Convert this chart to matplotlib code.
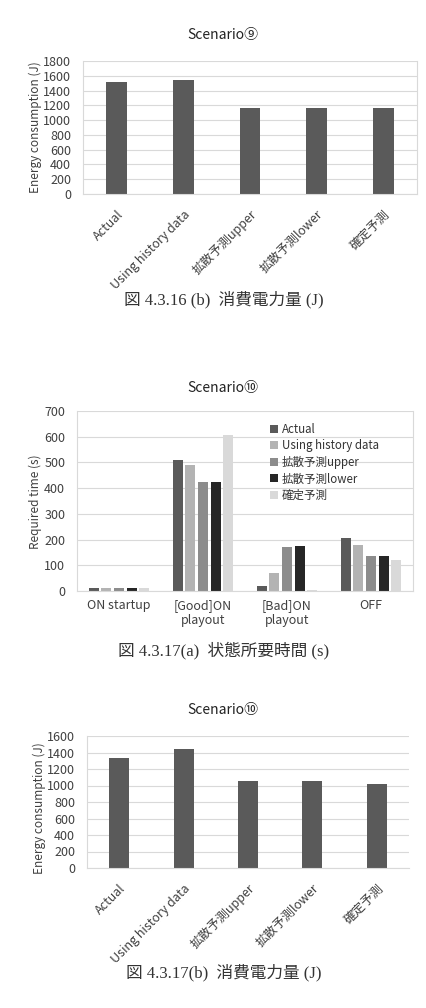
import matplotlib
matplotlib.use("Agg")
import matplotlib.pyplot as plt
import numpy as np

plt.rcParams['font.family'] = ['Noto Sans CJK JP', 'DejaVu Sans']

# data
methods = ['Actual', 'Using history data', '拡散予測upper', '拡散予測lower', '確定予測']
energy9 = [1515, 1545, 1163, 1163, 1170]
energy10 = [1330, 1448, 1056, 1056, 1020]

states = ['ON startup', '[Good]ON\nplayout', '[Bad]ON\nplayout', 'OFF']
t_actual = [10, 510, 20, 205]
t_history = [10, 490, 70, 177]
t_upper = [10, 425, 170, 138]
t_lower = [10, 425, 175, 138]
t_fixed = [13, 607, 4, 122]

W, H = 427, 1008
fig = plt.figure(figsize=(W / 100, H / 100), dpi=100)
fig.patch.set_facecolor('white')

grid_c = '#d9d9d9'
txt_c = '#404040'
cap_font = ['Liberation Serif', 'Noto Sans CJK JP']


def box(l, r, t, b):
    return [l / W, (H - b) / H, (r - l) / W, (b - t) / H]


def style(ax):
    ax.spines['top'].set_visible(False)
    for s in ['left', 'right', 'bottom']:
        ax.spines[s].set_color(grid_c)
        ax.spines[s].set_linewidth(0.8)
    ax.yaxis.grid(True, color=grid_c, linewidth=0.8)
    ax.set_axisbelow(True)
    ax.tick_params(axis='both', length=0, colors=txt_c, labelsize=9)
    ax.tick_params(axis='y', pad=8.5)


def ftext(x, y, s, **kw):
    fig.text(x / W, 1 - y / H, s, ha='center', va='center', **kw)


# ---- Scenario 9 energy ----
ax1 = fig.add_axes(box(83, 417, 61, 194))
x = np.arange(len(methods))
ax1.bar(x, energy9, width=0.31, color='#5a5a5a')
ax1.set_xlim(-0.5, 4.5)
ax1.set_ylim(0, 1800)
ax1.set_yticks(range(0, 1801, 200))
ax1.set_xticks(x)
ax1.set_xticklabels(methods, rotation=45, ha='right', rotation_mode='anchor', fontsize=8.5)
style(ax1)
ax1.tick_params(axis='x', pad=10)
ftext(223, 35, 'Scenario⑨', fontsize=10, color='#222222')
ftext(35, 127, 'Energy consumption (J)', fontsize=8.5, rotation=90, color=txt_c)
ftext(224, 300, '図 4.3.16 (b)  消費電力量 (J)', fontsize=12, color='#333333', family=cap_font)

# ---- Scenario 10 required time ----
ax2 = fig.add_axes(box(77, 413, 411, 591))
xs = np.arange(len(states))
series = [t_actual, t_history, t_upper, t_lower, t_fixed]
colors = ['#5a5a5a', '#b3b3b3', '#8c8c8c', '#262626', '#d9d9d9']
off = 0.15
for i, (vals, c, lab) in enumerate(zip(series, colors, methods)):
    ax2.bar(xs + (i - 2) * off, vals, width=0.12, color=c, label=lab)
ax2.set_xlim(-0.5, 3.5)
ax2.set_ylim(0, 700)
ax2.set_yticks(range(0, 701, 100))
ax2.set_xticks(xs)
ax2.set_xticklabels(states, fontsize=8.5, linespacing=1.2)
style(ax2)
ax2.tick_params(axis='x', pad=6)
ax2.legend(loc='upper left', bbox_to_anchor=(270 / W, 1 - 423 / H),
           bbox_transform=fig.transFigure, frameon=False, fontsize=8.3,
           handlelength=0.7, handleheight=0.7, handletextpad=0.35,
           labelspacing=0.3, borderpad=0, borderaxespad=0, labelcolor='#333333')
ftext(223, 388, 'Scenario⑩', fontsize=10, color='#222222')
ftext(35, 502, 'Required time (s)', fontsize=8.5, rotation=90, color=txt_c)
ftext(224, 650, '図 4.3.17(a)  状態所要時間 (s)', fontsize=12, color='#333333', family=cap_font)

# ---- Scenario 10 energy ----
ax3 = fig.add_axes(box(87, 409, 736, 868))
ax3.bar(x, energy10, width=0.31, color='#5a5a5a')
ax3.set_xlim(-0.5, 4.5)
ax3.set_ylim(0, 1600)
ax3.set_yticks(range(0, 1601, 200))
ax3.set_xticks(x)
ax3.set_xticklabels(methods, rotation=45, ha='right', rotation_mode='anchor', fontsize=8.5)
style(ax3)
ax3.spines['right'].set_visible(False)
ax3.tick_params(axis='x', pad=10)
ftext(223, 710, 'Scenario⑩', fontsize=10, color='#222222')
ftext(39, 808, 'Energy consumption (J)', fontsize=8.5, rotation=90, color=txt_c)
ftext(224, 973, '図 4.3.17(b)  消費電力量 (J)', fontsize=12, color='#333333', family=cap_font)

fig.savefig('out.png', dpi=100)
